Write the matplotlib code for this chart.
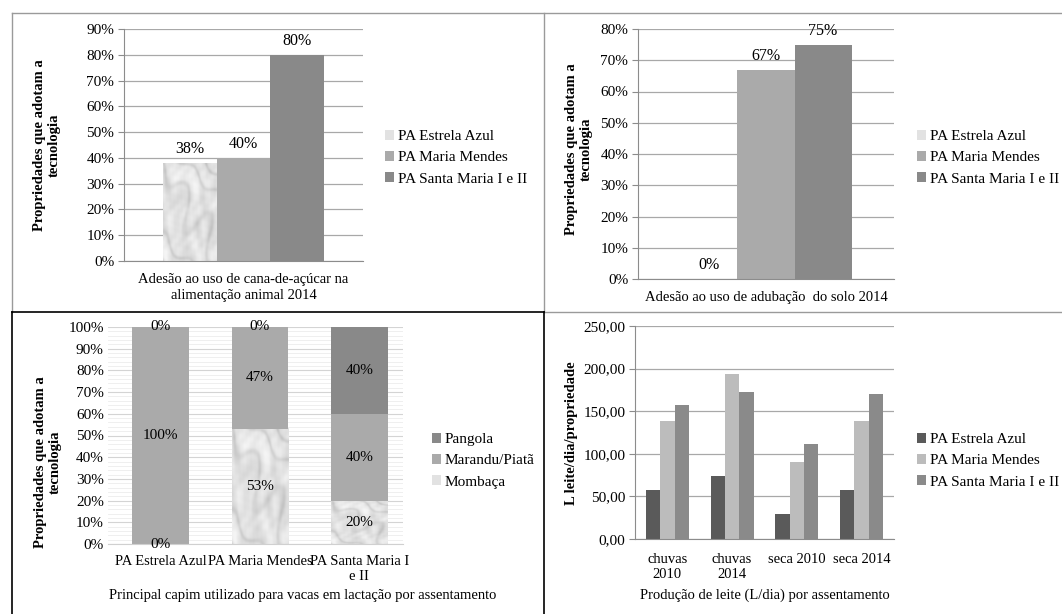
import numpy as np
import matplotlib
matplotlib.use("Agg")
import matplotlib.pyplot as plt
from matplotlib.patches import Patch
from matplotlib.lines import Line2D
from matplotlib.ticker import MultipleLocator, FuncFormatter

plt.rcParams['font.family'] = ['Liberation Serif', 'DejaVu Serif']

# ---- data -------------------------------------------------------------
assentamentos = ["PA Estrela Azul", "PA Maria Mendes", "PA Santa Maria I e II"]

cana_label = "Adesão ao uso de cana-de-açúcar na\nalimentação animal 2014"
cana_2014 = [38, 40, 80]

adubacao_label = "Adesão ao uso de adubação  do solo 2014"
adubacao_2014 = [0, 67, 75]

capim_categorias = ["PA Estrela Azul", "PA Maria Mendes", "PA Santa Maria I\ne II"]
capim_mombaca = [0, 53, 20]
capim_marandu = [100, 47, 40]
capim_pangola = [0, 0, 40]

periodos = ["chuvas\n2010", "chuvas\n2014", "seca 2010", "seca 2014"]
leite_estrela = [58, 74, 29, 57]
leite_maria = [139, 194, 90, 139]
leite_santa = [157, 172, 111, 170]

# ---- styling ----------------------------------------------------------
W, H = 1062, 614
LIGHT = '#e2e2e2'
MID = '#aaaaaa'
DARK = '#898989'
BR_COLORS = ['#5a5a5a', '#bcbcbc', '#8a8a8a']
AXC = '#8c8c8c'
GRID = '#a8a8a8'
TICK_FS = 11
LEG_FS = 11
LAB_FS = 10.5
VAL_FS = 11.5


def fx(px):
    return px / W


def fy(py):
    return 1 - py / H


def axes_rect(x0, y0, x1, y1):
    return [fx(x0), fy(y1), fx(x1) - fx(x0), fy(y0) - fy(y1)]


def marble(n=220):
    # cloudy light-grey stone texture with soft diagonal streaks (layered sines)
    y, x = np.mgrid[0:1:n * 1j, 0:1:n * 1j]
    cloud = (np.sin(6 * x + 3 * np.sin(5 * y)) * np.cos(7 * y - 2 * np.sin(6 * x))
             + 0.6 * np.sin(13 * x + 11 * y + 2 * np.sin(9 * x))
             + 0.35 * np.sin(29 * x - 23 * y + 1.5 * np.sin(17 * y))
             + 0.2 * np.sin(53 * x + 47 * y) * np.sin(41 * y - 37 * x))
    warp = 1.4 * np.sin(5 * y + 2 * x) + 0.8 * np.sin(9 * x - 7 * y)
    streak = np.exp(-(np.sin(5 * x + 8 * y + warp) / 0.35) ** 2)
    v = 0.90 + 0.035 * cloud - 0.08 * streak
    return np.clip(v, 0.72, 0.99)


TEX = marble()


def texture_bars(ax, container):
    for r in container.patches:
        h = r.get_height()
        if h <= 0:
            continue
        x0, y0, w = r.get_x(), r.get_y(), r.get_width()
        ax.imshow(TEX, cmap='gray', vmin=0, vmax=1, extent=[x0, x0 + w, y0, y0 + h],
                  aspect='auto', interpolation='bilinear', zorder=2, origin='lower')


def style_axes(ax, left_spine=True, xpad=7):
    for s in ('top', 'right'):
        ax.spines[s].set_visible(False)
    ax.spines['bottom'].set_color(AXC)
    ax.spines['left'].set_color(AXC)
    ax.spines['left'].set_visible(left_spine)
    ax.tick_params(axis='y', length=4 if left_spine else 0, color=AXC,
                   labelsize=TICK_FS, pad=3)
    ax.tick_params(axis='x', length=0, labelsize=LAB_FS, pad=xpad)
    ax.set_axisbelow(True)


def place_legend(ax, handles, labels, x_px, y_px):
    ax.legend(handles, labels, loc='upper left',
              bbox_to_anchor=(fx(x_px), fy(y_px)), bbox_transform=fig.transFigure,
              frameon=False, fontsize=LEG_FS, borderpad=0, borderaxespad=0,
              handlelength=0.6, handleheight=0.6, handletextpad=0.25,
              labelspacing=0.52)


def ylabel(x_px, y_px, text):
    fig.text(fx(x_px), fy(y_px), text, rotation=90, ha='center', va='center',
             fontsize=LAB_FS, fontweight='bold', multialignment='center')


pct = FuncFormatter(lambda v, _: f"{v:.0f}%")

fig = plt.figure(figsize=(W / 100, H / 100), dpi=100)
fig.patch.set_facecolor('white')

# ---- panel 1: cana-de-açúcar -----------------------------------------
ax1 = fig.add_axes(axes_rect(124, 29, 363, 261))
bw = 0.224
offs = [-bw, 0, bw]
cols = [None, MID, DARK]
for i, (v, off) in enumerate(zip(cana_2014, offs)):
    if i == 0:
        c = ax1.bar([off], [v], width=bw, color='none', zorder=2)
        texture_bars(ax1, c)
    else:
        c = ax1.bar([off], [v], width=bw, color=cols[i], zorder=2)
    ax1.bar_label(c, labels=[f"{v}%"], padding=4, fontsize=VAL_FS)
ax1.set_xlim(-0.5, 0.5)
ax1.set_ylim(0, 90)
ax1.yaxis.set_major_locator(MultipleLocator(10))
ax1.yaxis.set_major_formatter(pct)
ax1.yaxis.grid(True, color=GRID, lw=0.9)
ax1.set_xticks([0])
ax1.set_xticklabels([cana_label], linespacing=1.25)
style_axes(ax1, xpad=9)
ylabel(47, 145, "Propriedades que adotam a\ntecnologia")
place_legend(ax1,
             [Patch(facecolor=LIGHT), Patch(facecolor=MID), Patch(facecolor=DARK)],
             assentamentos, 385, 130)

# ---- panel 2: adubação -----------------------------------------------
ax2 = fig.add_axes(axes_rect(638, 29, 894, 279))
bw2 = 0.223
offs2 = [-bw2, 0, bw2]
for i, (v, off) in enumerate(zip(adubacao_2014, offs2)):
    if i == 0:
        c = ax2.bar([off], [v], width=bw2, color='none', zorder=2)
        texture_bars(ax2, c)
    else:
        c = ax2.bar([off], [v], width=bw2, color=cols[i], zorder=2)
    ax2.bar_label(c, labels=[f"{v}%"], padding=4, fontsize=VAL_FS)
ax2.set_xlim(-0.5, 0.5)
ax2.set_ylim(0, 80)
ax2.yaxis.set_major_locator(MultipleLocator(10))
ax2.yaxis.set_major_formatter(pct)
ax2.yaxis.grid(True, color=GRID, lw=0.9)
ax2.set_xticks([0])
ax2.set_xticklabels([adubacao_label])
style_axes(ax2, xpad=9)
ylabel(579, 149, "Propriedades que adotam a\ntecnologia")
place_legend(ax2,
             [Patch(facecolor=LIGHT), Patch(facecolor=MID), Patch(facecolor=DARK)],
             assentamentos, 917, 130)

# ---- panel 3: capim (stacked) ----------------------------------------
ax3 = fig.add_axes(axes_rect(108, 327, 403, 544))
xc = np.arange(len(capim_categorias))
bw3 = 0.57
b1 = ax3.bar(xc, capim_mombaca, width=bw3, color='none', zorder=2)
texture_bars(ax3, b1)
bottom2 = np.array(capim_mombaca)
b2 = ax3.bar(xc, capim_marandu, width=bw3, bottom=bottom2, color=MID, zorder=2)
bottom3 = bottom2 + np.array(capim_marandu)
b3 = ax3.bar(xc, capim_pangola, width=bw3, bottom=bottom3, color=DARK, zorder=2)
for cont, vals in ((b1, capim_mombaca), (b2, capim_marandu), (b3, capim_pangola)):
    ax3.bar_label(cont, labels=[f"{v}%" for v in vals], label_type='center',
                  fontsize=TICK_FS, zorder=4)
ax3.set_xlim(-0.53, 2.44)
ax3.set_ylim(0, 100)
ax3.yaxis.set_major_locator(MultipleLocator(10))
ax3.yaxis.set_minor_locator(MultipleLocator(2))
ax3.yaxis.set_major_formatter(pct)
ax3.yaxis.grid(True, which='major', color='#d4d4d4', lw=0.8)
ax3.yaxis.grid(True, which='minor', color='#ececec', lw=0.6)
ax3.tick_params(axis='y', which='minor', length=0)
ax3.set_xticks(xc)
ax3.set_xticklabels(capim_categorias, linespacing=1.2)
style_axes(ax3, left_spine=False, xpad=8)
ax3.spines['bottom'].set_color('#d0d0d0')
fig.text(fx(303), fy(595), "Principal capim utilizado para vacas em lactação por assentamento",
         ha='center', va='center', fontsize=LAB_FS)
ylabel(48, 462, "Propriedades que adotam a\ntecnologia")
place_legend(ax3,
             [Patch(facecolor=DARK), Patch(facecolor=MID), Patch(facecolor=LIGHT)],
             ["Pangola", "Marandu/Piatã", "Mombaça"], 432, 433)

# ---- panel 4: produção de leite --------------------------------------
ax4 = fig.add_axes(axes_rect(635, 326, 894, 539))
xp = np.arange(len(periodos))
bw4 = 0.221
series4 = [leite_estrela, leite_maria, leite_santa]
for k, vals in enumerate(series4):
    ax4.bar(xp + (k - 1) * bw4, vals, width=bw4, color=BR_COLORS[k], zorder=2)
ax4.set_xlim(-0.5, 3.5)
ax4.set_ylim(0, 250)
ax4.yaxis.set_major_locator(MultipleLocator(50))
ax4.yaxis.set_major_formatter(FuncFormatter(lambda v, _: f"{v:.2f}".replace('.', ',')))
ax4.yaxis.grid(True, color=GRID, lw=0.9)
ax4.set_xticks(xp)
ax4.set_xticklabels(periodos, linespacing=1.25)
style_axes(ax4, xpad=10)
fig.text(fx(765), fy(595), "Produção de leite (L/dia) por assentamento",
         ha='center', va='center', fontsize=LAB_FS)
ylabel(572, 433, "L leite/dia/propriedade")
place_legend(ax4,
             [Patch(facecolor=c) for c in BR_COLORS],
             assentamentos, 917, 433)

# ---- panel frames ----------------------------------------------------
def frame(x0, y0, x1, y1, color, lw=1.0):
    fig.add_artist(Line2D([fx(x0), fx(x1)], [fy(y0), fy(y1)],
                          transform=fig.transFigure, color=color, lw=lw))


G = '#9a9a9a'
frame(12, 13, 1062, 13, G)
frame(12, 13, 12, 312, G)
frame(544, 13, 544, 312, G)
frame(544, 312, 1062, 312, G)
frame(12, 312, 544, 312, 'black', 1.2)
frame(12, 312, 12, 614, 'black', 1.2)
frame(544, 312, 544, 614, 'black', 1.2)

fig.savefig("out.png", dpi=100, facecolor='white')
